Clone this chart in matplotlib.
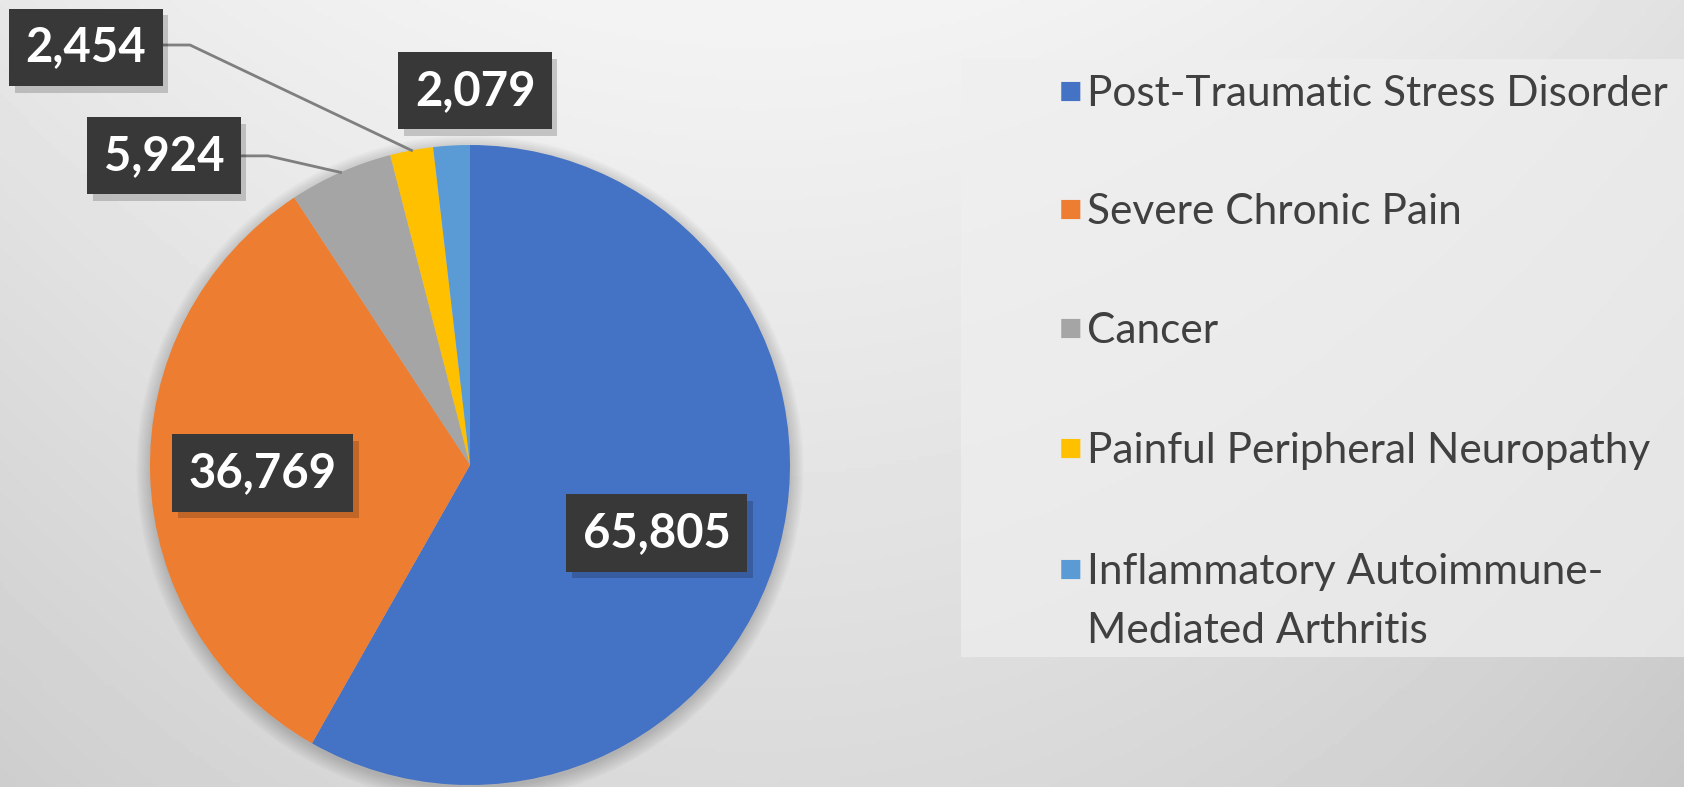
import numpy as np
import matplotlib.pyplot as plt
import matplotlib.patheffects as pe

plt.rcParams['font.family'] = ['Lato', 'DejaVu Sans']

# Datos del gráfico
labels = ['Post-Traumatic Stress Disorder', 'Severe Chronic Pain', 'Cancer',
          'Painful Peripheral Neuropathy', 'Inflammatory Autoimmune-\nMediated Arthritis']
values = [65805, 36769, 5924, 2454, 2079]
colors = ['#4472C4', '#ED7D31', '#A5A5A5', '#FFC000', '#5B9BD5']

W, H = 1684, 787
fig = plt.figure(figsize=(W / 100, H / 100), dpi=100)

# Fondo con degradado gris
bg = fig.add_axes([0, 0, 1, 1], zorder=0)
yy, xx = np.mgrid[0:1:200j, 0:1:400j]
grad = 0.955 - 0.10 * yy - 0.06 * (np.abs(xx - 0.45) * 2) ** 2
bg.imshow(grad, cmap='gray', vmin=0, vmax=1, aspect='auto', extent=[0, 1, 0, 1])
bg.add_patch(plt.Rectangle((961 / W, 1 - 657 / H), 1 - 961 / W, (657 - 59) / H,
                           facecolor='#efefef', edgecolor='none', alpha=0.7))
bg.set_xlim(0, 1)
bg.set_ylim(0, 1)
bg.axis('off')

# Ejes del pastel: 320 px por unidad, centro en (470, 465)
cx, cy, r = 470, 465, 320
ax = fig.add_axes([0, 0, 1, 1], zorder=1)
ax.patch.set_alpha(0)

# sombra suave del pastel
for k in range(8):
    ax.add_patch(plt.Circle((0.0, -0.012), 1.0 + 0.006 * k, color='black',
                            alpha=0.025, linewidth=0, zorder=0))

wedges, _ = ax.pie(values, colors=colors, startangle=90, counterclock=False,
                   wedgeprops=dict(linewidth=0))
ax.set_xlim(-cx / r, (W - cx) / r)
ax.set_ylim(-(H - cy) / r, cy / r)
ax.axis('off')

# Etiquetas de valores (posiciones de la maqueta)
label_pos = [(0.584, -0.2125), (-0.647, -0.025), (-0.956, 0.966),
             (-1.20, 1.306), (0.016, 1.169)]
for v, (x, y) in zip(values, label_pos):
    t = ax.text(x, y, f'{v:,}', ha='center', va='center', fontsize=34,
                fontweight='bold', color='white', zorder=5,
                bbox=dict(boxstyle='square,pad=0.35', facecolor='#383838',
                          edgecolor='none'))
    t.get_bbox_patch().set_path_effects(
        [pe.SimplePatchShadow(offset=(4, -5), shadow_rgbFace='black', alpha=0.18),
         pe.Normal()])

# Líneas guía para las porciones pequeñas
elbows = {2: [(-0.7125, 0.966), (-0.631, 0.966)],
          3: [(-0.959, 1.3125), (-0.875, 1.3125)]}
for i, pts in elbows.items():
    w = wedges[i]
    mid = np.deg2rad((w.theta1 + w.theta2) / 2)
    xs = [p[0] for p in pts] + [np.cos(mid)]
    ys = [p[1] for p in pts] + [np.sin(mid)]
    ax.plot(xs, ys, color='#7f7f7f', linewidth=2, zorder=3)

# Leyenda manual
rows = [91, 209, 328, 448, 569]
for lab, col, ry in zip(labels, colors, rows):
    fig.text(1071 / W, 1 - ry / H, '■', color=col, fontsize=18,
             ha='center', va='center', family=['DejaVu Sans'])
    for j, line in enumerate(lab.split('\n')):
        fig.text(1087 / W, 1 - (ry + 15 + 59 * j) / H, line, color='#404040',
                 fontsize=30.5, ha='left', va='baseline')

fig.savefig('out.png', dpi=100)
